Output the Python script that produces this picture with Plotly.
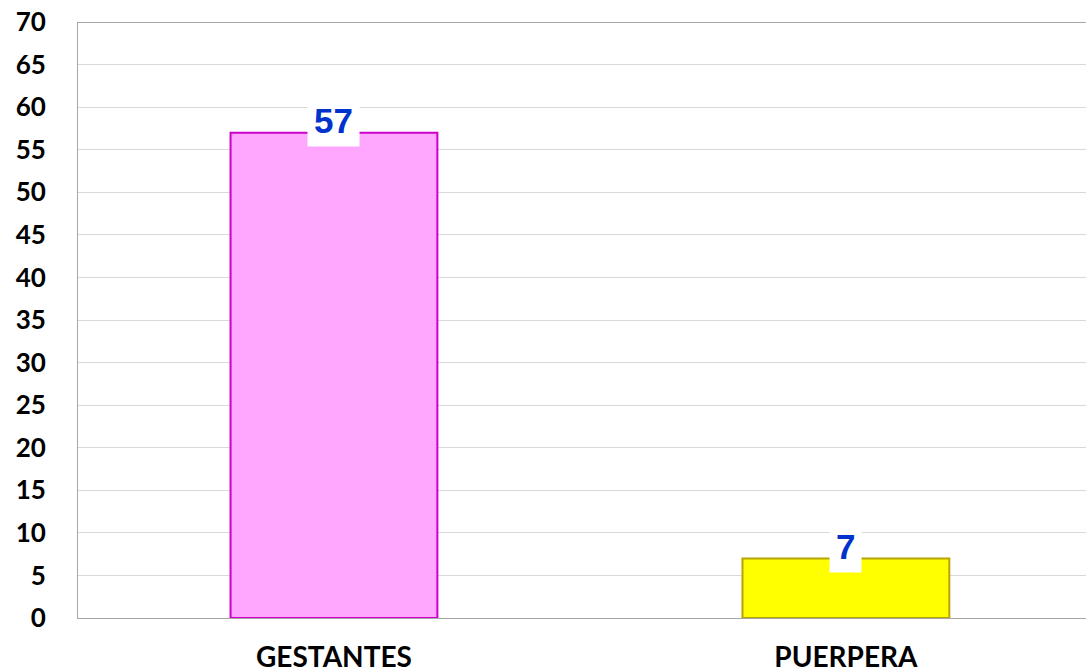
import plotly.graph_objects as go

categories = ["GESTANTES", "PUERPERA"]
values = [57, 7]
fill_colors = ["#ffa6ff", "#ffff00"]
line_colors = ["#cc00cc", "#b8a400"]
y_ticks = list(range(0, 75, 5))

fig = go.Figure()
fig.add_trace(go.Bar(
    x=categories, y=values, width=0.404,
    marker=dict(color=fill_colors, line=dict(color=line_colors, width=2)),
    showlegend=False, hoverinfo="skip",
))

for c, v in zip(categories, values):
    fig.add_annotation(
        x=c, y=v, text=f"<b>{v}</b>", showarrow=False,
        yanchor="middle", yshift=12,
        font=dict(family="Liberation Sans, Arial", size=35, color="#0033cc"),
        bgcolor="white", borderpad=6,
    )

fig.update_layout(
    width=1086, height=670,
    margin=dict(l=78, r=0, t=22, b=52),
    paper_bgcolor="white", plot_bgcolor="white",
    bargap=0.6,
    xaxis=dict(
        range=[-0.5, 1.469], showgrid=False, showline=True, linecolor="#a6a6a6",
        linewidth=1, ticks="", automargin=False,
        tickfont=dict(family="Lato, Open Sans", size=28, color="black", weight="bold"),
        ticklabelstandoff=14,
    ),
    yaxis=dict(
        range=[0, 70], tickvals=y_ticks, showgrid=True, gridcolor="#d9d9d9", gridwidth=1,
        showline=True, linecolor="#a6a6a6", linewidth=1, zeroline=False, mirror=False,
        ticks="", automargin=False,
        tickfont=dict(family="Lato, Open Sans", size=26, color="black", weight="bold"),
        ticklabelstandoff=26,
    ),
    shapes=[dict(type="line", xref="paper", yref="y", x0=0, x1=1, y0=70, y1=70,
                 line=dict(color="#a6a6a6", width=2))],
)

fig.write_html(
    "out.html",
    config={"displayModeBar": False},
    post_script="document.body.style.margin='0';document.body.style.overflow='hidden';",
)
